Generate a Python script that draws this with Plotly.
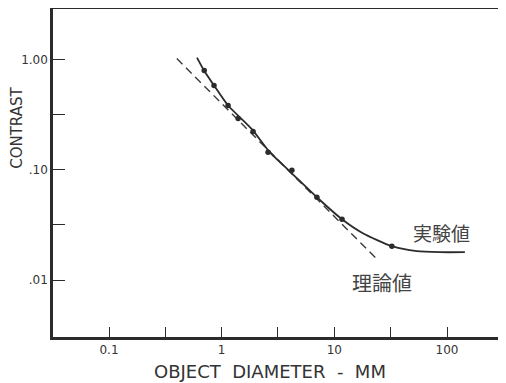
import plotly.graph_objects as go

# Experimental data points (object diameter in mm, contrast)
x_exp = [0.70, 0.855, 1.14, 1.40, 1.90, 2.58, 4.2, 7.0, 11.7, 32.4]
y_exp = [0.795, 0.582, 0.383, 0.292, 0.223, 0.144, 0.099, 0.0564, 0.0356, 0.0203]

x_curve = [0.604, 0.697, 0.855, 1.14, 1.86, 2.63, 4.2, 7.0, 11.7, 17.9, 32.4, 54, 86.5, 144]
y_curve = [1.04, 0.795, 0.582, 0.383, 0.2325, 0.147, 0.093, 0.0564, 0.0356, 0.0266, 0.0203, 0.0183, 0.0179, 0.0179]

# Theoretical (dashed) line
x_theory = [0.40, 23.4]
y_theory = [1.02, 0.0158]

x_tickvals = [0.1, 0.316, 1, 3.16, 10, 31.6, 100]
x_ticktext = ["0.1", "", "1", "", "10", "", "100"]
y_tickvals = [1, 0.316, 0.1, 0.0316, 0.01]
y_ticktext = ["1.00", "", ".10", "", ".01"]

label_exp = "実験値"
label_theory = "理論値"
x_title = "OBJECT  DIAMETER  -  MM"
y_title = "CONTRAST"

ink = "#2b2b2b"

fig = go.Figure()
fig.add_trace(go.Scatter(x=x_theory, y=y_theory, mode="lines",
                         line=dict(color="#3a3a3a", width=1.4, dash="8px,5px"),
                         showlegend=False))
fig.add_trace(go.Scatter(x=x_curve, y=y_curve, mode="lines",
                         line=dict(color=ink, width=1.8, shape="spline", smoothing=0.6),
                         showlegend=False))
fig.add_trace(go.Scatter(x=x_exp, y=y_exp, mode="markers",
                         marker=dict(color=ink, size=5.5),
                         showlegend=False))

axis_common = dict(showgrid=False, zeroline=False, showline=True, linecolor=ink,
                   linewidth=2.5, mirror=True, ticks="inside", tickcolor=ink,
                   tickwidth=1.3, automargin=False,
                   tickfont=dict(family="DejaVu Sans", size=12, color="#333"))

fig.update_xaxes(type="log", range=[-1.497, 2.488], tickvals=x_tickvals,
                 ticktext=x_ticktext, ticklen=10, **axis_common)
fig.update_yaxes(type="log", range=[-2.516, 0.458], tickvals=y_tickvals,
                 ticktext=y_ticktext, ticklen=12, **axis_common)

ann = dict(xref="paper", yref="paper", showarrow=False, xanchor="center", yanchor="middle")
fig.add_annotation(text=label_exp, x=0.866, y=0.319,
                   font=dict(family="Noto Sans CJK JP", size=19, color="#444"), **ann)
fig.add_annotation(text=label_theory, x=0.733, y=0.167,
                   font=dict(family="Noto Sans CJK JP", size=20, color="#444"), **ann)
fig.add_annotation(text=x_title, x=0.483, y=-0.106,
                   font=dict(family="DejaVu Sans", size=18, color="#333"), **ann)
fig.add_annotation(text=y_title, x=-0.080, y=0.638, textangle=-90,
                   font=dict(family="DejaVu Sans", size=15, color="#333"), **ann)

# page body adds an 8px offset; figure is sized to fill the rest of the window
fig.update_layout(width=498, height=375,
                  margin=dict(l=45, r=4, t=1, b=46, autoexpand=False),
                  paper_bgcolor="white", plot_bgcolor="white")

fig.write_html("out.html")
